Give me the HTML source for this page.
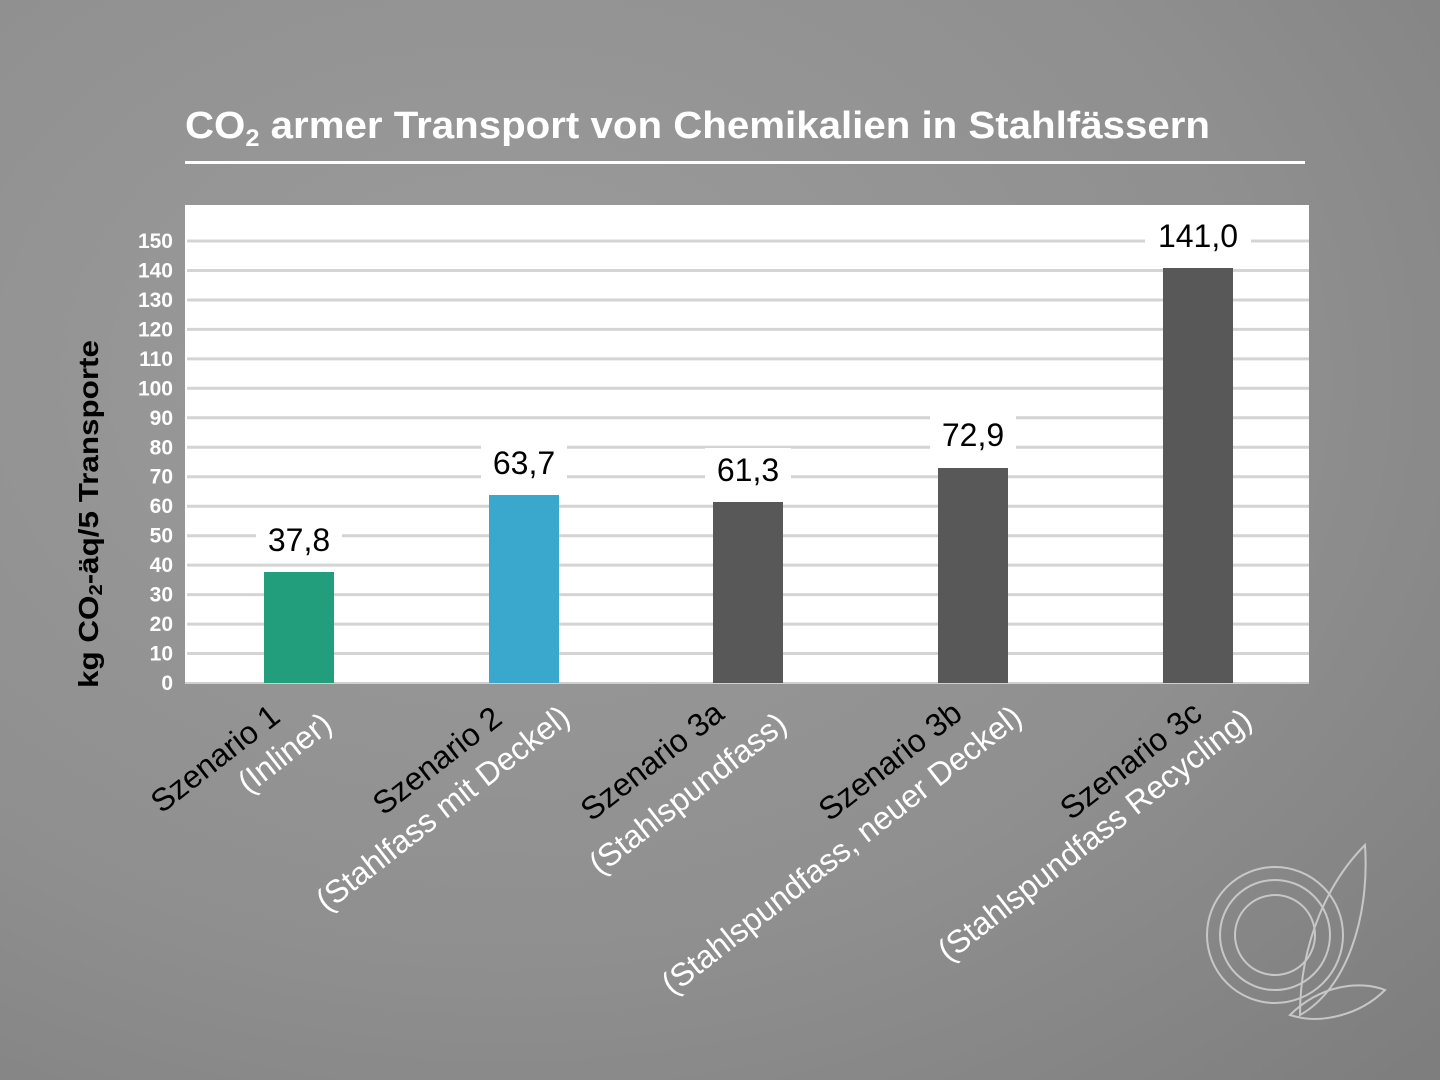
<!DOCTYPE html>
<html><head><meta charset="utf-8"><style>
html,body{margin:0;padding:0;width:1440px;height:1080px;overflow:hidden}
svg{display:block}
</style></head><body>
<svg width="1440" height="1080" viewBox="0 0 1440 1080" xmlns="http://www.w3.org/2000/svg" font-family="Liberation Sans, sans-serif">
<defs>
<radialGradient id="bg" cx="0.35" cy="0.35" r="0.9">
<stop offset="0" stop-color="#9c9c9c"/><stop offset="0.6" stop-color="#8f8f8f"/><stop offset="1" stop-color="#7e7e7e"/>
</radialGradient>
</defs>
<rect width="1440" height="1080" fill="url(#bg)"/>
<text x="185" y="138" fill="#fff" font-weight="bold" font-size="38" textLength="1025" lengthAdjust="spacingAndGlyphs">CO<tspan font-size="24" dy="8">2</tspan><tspan dy="-8"> armer Transport von Chemikalien in Stahlfässern</tspan></text>
<rect x="185" y="161" width="1120" height="3" fill="#fff"/>
<rect x="185" y="205" width="1124" height="478" fill="#fff"/>
<g stroke="#d4d4d4" stroke-width="3">
<line x1="187" x2="1309" y1="241" y2="241"/><line x1="187" x2="1309" y1="270.5" y2="270.5"/><line x1="187" x2="1309" y1="300" y2="300"/><line x1="187" x2="1309" y1="329.4" y2="329.4"/><line x1="187" x2="1309" y1="358.9" y2="358.9"/><line x1="187" x2="1309" y1="388.3" y2="388.3"/><line x1="187" x2="1309" y1="417.8" y2="417.8"/><line x1="187" x2="1309" y1="447.3" y2="447.3"/><line x1="187" x2="1309" y1="476.7" y2="476.7"/><line x1="187" x2="1309" y1="506.2" y2="506.2"/><line x1="187" x2="1309" y1="535.7" y2="535.7"/><line x1="187" x2="1309" y1="565.1" y2="565.1"/><line x1="187" x2="1309" y1="594.6" y2="594.6"/><line x1="187" x2="1309" y1="624.1" y2="624.1"/><line x1="187" x2="1309" y1="653.5" y2="653.5"/>
</g>
<line x1="185" x2="1309" y1="683" y2="683" stroke="#cfcfcf" stroke-width="2"/>
<g fill="#fff" font-weight="bold" font-size="21" text-anchor="end">
<text x="173" y="248">150</text><text x="173" y="277.5">140</text><text x="173" y="307">130</text><text x="173" y="336.4">120</text><text x="173" y="365.9">110</text><text x="173" y="395.3">100</text><text x="173" y="424.8">90</text><text x="173" y="454.3">80</text><text x="173" y="483.7">70</text><text x="173" y="513.2">60</text><text x="173" y="542.7">50</text><text x="173" y="572.1">40</text><text x="173" y="601.6">30</text><text x="173" y="631.1">20</text><text x="173" y="660.5">10</text><text x="173" y="690">0</text>
</g>
<text transform="translate(98,688) rotate(-90)" fill="#000" font-weight="bold" font-size="28" textLength="348" lengthAdjust="spacingAndGlyphs">kg CO<tspan font-size="18" dy="4">2</tspan><tspan dy="-4">-äq/5 Transporte</tspan></text>
<rect x="264" y="572" width="70" height="111" fill="#239e7d"/>
<rect x="489" y="495" width="70" height="188" fill="#3aa8cc"/>
<rect x="713" y="502" width="70" height="181" fill="#585858"/>
<rect x="938" y="468" width="70" height="215" fill="#585858"/>
<rect x="1163" y="268" width="70" height="415" fill="#585858"/>
<g fill="#fff">
<rect x="256" y="518" width="86" height="44"/><rect x="481" y="441" width="86" height="44"/><rect x="705" y="448" width="86" height="44"/><rect x="930" y="413" width="86" height="44"/><rect x="1145" y="213" width="106" height="46"/>
</g>
<g fill="#000" font-size="32" text-anchor="middle">
<text x="299" y="551">37,8</text><text x="524" y="474">63,7</text><text x="748" y="481">61,3</text><text x="973" y="446">72,9</text><text x="1198" y="247">141,0</text>
</g>
<g font-size="32" text-anchor="end">
<text transform="translate(282,720) rotate(-38)" fill="#000">Szenario 1</text>
<text transform="translate(334,728) rotate(-38)" fill="#fff">(Inliner)</text>
<text transform="translate(504,722) rotate(-38)" fill="#000">Szenario 2</text>
<text transform="translate(572,721) rotate(-38)" fill="#fff">(Stahlfass mit Deckel)</text>
<text transform="translate(726,717) rotate(-38)" fill="#000">Szenario 3a</text>
<text transform="translate(789,728) rotate(-38)" fill="#fff">(Stahlspundfass)</text>
<text transform="translate(964,717) rotate(-38)" fill="#000">Szenario 3b</text>
<text transform="translate(1024,721) rotate(-38)" fill="#fff">(Stahlspundfass, neuer Deckel)</text>
<text transform="translate(1204,717) rotate(-38)" fill="#000">Szenario 3c</text>
<text transform="translate(1254,724) rotate(-38)" fill="#fff">(Stahlspundfass Recycling)</text>
</g>
<g fill="none" stroke="#d8d8d8" stroke-width="2" opacity="0.8">
<circle cx="1275" cy="935" r="68"/><circle cx="1275" cy="935" r="55"/><circle cx="1275" cy="935" r="40"/>
<path d="M1300 1015 C1300 940 1330 880 1365 845 C1370 920 1345 990 1300 1015 Z"/>
<path d="M1290 1015 C1320 985 1360 980 1385 990 C1360 1015 1320 1025 1290 1015 Z"/>
</g>
</svg>
</body></html>
